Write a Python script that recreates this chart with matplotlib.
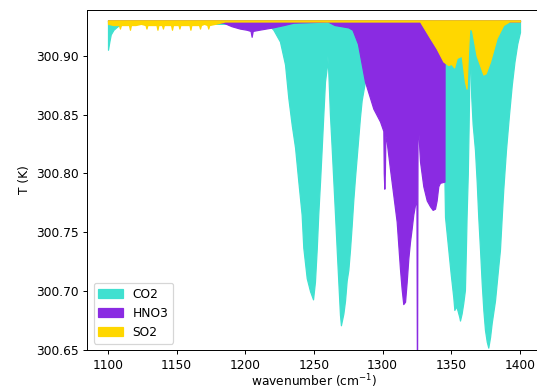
import matplotlib
matplotlib.use("Agg")
import matplotlib.pyplot as plt
from matplotlib.ticker import FormatStrFormatter, MultipleLocator

T_top = 300.93  # clear-sky brightness temperature (K)

# CO2 spectrum (wavenumber cm-1, T in K)
co2_wn = [1100, 1101, 1102, 1104, 1107, 1112, 1215, 1218, 1220.4, 1225.2, 1228.9, 1231.3,
          1233.8, 1236.2, 1238.6, 1241.0, 1242.2, 1244.7, 1247.1, 1249.3, 1250.7, 1252.0,
          1253.1, 1254.4, 1255.6, 1256.8, 1258.0, 1259.3, 1259.8, 1260.4, 1261.6, 1262.9,
          1264.1, 1265.3, 1266.5, 1267.7, 1268.9, 1269.6, 1271.4, 1272.6, 1273.8, 1275.0,
          1276.2, 1277.4, 1278.6, 1279.9, 1281.1, 1282.3, 1283.5, 1284.7, 1287.1, 1290,
          1295, 1300, 1344.8, 1344.9, 1345.4, 1347.8, 1349.5, 1351.4, 1352.2, 1353.4,
          1354.4, 1355.8, 1356.3, 1357.5, 1358.7, 1359.9, 1360.6, 1361.1, 1362.0, 1362.6,
          1363.1, 1363.4, 1363.7, 1364.5, 1365.5, 1367.2, 1368.5, 1369.6, 1370.9, 1372.1,
          1373.3, 1374.5, 1375.8, 1376.9, 1378.2, 1379.4, 1381.8, 1384.2, 1385.4, 1386.7,
          1387.8, 1389.8, 1392, 1394, 1396, 1398, 1400]
co2_T = [300.905, 300.912, 300.918, 300.922, 300.925, 300.927, 300.927, 300.925, 300.922,
         300.912, 300.8925, 300.864, 300.841, 300.822, 300.793, 300.765, 300.737, 300.711,
         300.700, 300.693, 300.708, 300.736, 300.765, 300.793, 300.821, 300.850, 300.878,
         300.890, 300.900, 300.886, 300.850, 300.821, 300.793, 300.765, 300.736, 300.708,
         300.680, 300.671, 300.681, 300.692, 300.709, 300.718, 300.735, 300.755, 300.777,
         300.797, 300.814, 300.831, 300.848, 300.862, 300.878, 300.897, 300.917, 300.926,
         300.927, 300.800, 300.763, 300.735, 300.715, 300.695, 300.684, 300.687, 300.684,
         300.678, 300.675, 300.681, 300.690, 300.701, 300.735, 300.763, 300.800, 300.840,
         300.880, 300.922, 300.900, 300.865, 300.842, 300.820, 300.792, 300.763, 300.735,
         300.707, 300.684, 300.667, 300.657, 300.652, 300.661, 300.673, 300.692, 300.721,
         300.735, 300.763, 300.786, 300.820, 300.850, 300.875, 300.895, 300.910, 300.920]

# HNO3 spectrum
hno3_wn = [1100, 1184, 1190, 1196, 1201, 1203.8, 1204.6, 1205.4, 1210, 1220, 1228, 1235,
           1260, 1265, 1270, 1275, 1278, 1282, 1287.1, 1293.2, 1298.1, 1300.5, 1300.8,
           1301.2, 1301.6, 1302.0, 1302.9, 1305.3, 1307.7, 1310.2, 1312.6, 1313.8, 1315.0,
           1316.3, 1317.5, 1318.7, 1319.9, 1321.1, 1322.3, 1323.5, 1324.6, 1325.0, 1325.4,
           1326.0, 1327.2, 1329.6, 1332.1, 1334.5, 1336.4, 1338.1, 1339.3, 1340.5, 1341.7,
           1345.0, 1345.1, 1400]
hno3_T = [300.929, 300.928, 300.925, 300.923, 300.922, 300.921, 300.916, 300.921, 300.922,
          300.924, 300.926, 300.928, 300.929, 300.926, 300.925, 300.924, 300.922, 300.910,
          300.878, 300.855, 300.844, 300.836, 300.800, 300.787, 300.800, 300.832, 300.827,
          300.804, 300.782, 300.759, 300.719, 300.702, 300.689, 300.691, 300.708, 300.728,
          300.742, 300.753, 300.765, 300.773, 300.776, 300.600, 300.840, 300.835, 300.810,
          300.789, 300.777, 300.772, 300.769, 300.770, 300.777, 300.789, 300.792, 300.793,
          300.929, 300.929]

# SO2 spectrum
so2_wn = [1100, 1104, 1108, 1108.7, 1109.4, 1112, 1115.3, 1116, 1116.7, 1120, 1124, 1127.3,
          1128, 1128.7, 1132, 1135.3, 1136, 1136.7, 1139.3, 1140, 1140.7, 1144, 1145.9,
          1146.6, 1147.3, 1151.3, 1152, 1152.7, 1156, 1159.3, 1160, 1160.7, 1164, 1166.3,
          1167, 1167.7, 1170, 1172.3, 1173, 1173.7, 1178, 1185, 1320, 1327.2, 1334.5,
          1339.3, 1344.2, 1347.8, 1350, 1352, 1353.9, 1357.5, 1359.9, 1361.1, 1362, 1363,
          1365, 1368.4, 1373.3, 1375, 1378.2, 1383, 1387.8, 1392, 1400]
so2_T = [300.927, 300.926, 300.926, 300.923, 300.926, 300.926, 300.926, 300.922, 300.926,
         300.926, 300.927, 300.926, 300.923, 300.926, 300.926, 300.926, 300.922, 300.926,
         300.926, 300.923, 300.926, 300.926, 300.926, 300.922, 300.926, 300.926, 300.923,
         300.926, 300.926, 300.926, 300.922, 300.926, 300.926, 300.926, 300.923, 300.926,
         300.927, 300.926, 300.923, 300.926, 300.927, 300.929, 300.929, 300.929, 300.915,
         300.906, 300.895, 300.892, 300.893, 300.890, 300.898, 300.900, 300.878, 300.872,
         300.900, 300.923, 300.922, 300.900, 300.884, 300.885, 300.895, 300.915, 300.926,
         300.929, 300.929]

DPI = 88
fig = plt.figure(figsize=(537 / DPI, 390 / DPI), dpi=DPI)
ax = fig.add_axes([87.4 / 537, 40 / 390, 453.2 / 537, 340.5 / 390])

ax.fill_between(co2_wn, co2_T, T_top, color='turquoise', label='CO2')
ax.fill_between(hno3_wn, hno3_T, T_top, color='blueviolet', label='HNO3')
ax.fill_between(so2_wn, so2_T, T_top, color='gold', label='SO2')

ax.set_xlim(1085, 1415)
ax.set_ylim(300.65, 300.9392)
ax.yaxis.set_major_locator(MultipleLocator(0.05))
ax.yaxis.set_major_formatter(FormatStrFormatter('%.2f'))
ax.xaxis.set_major_locator(MultipleLocator(50))

ax.set_xlabel('wavenumber (cm$^{-1}$)', labelpad=1)
ax.set_ylabel('T (K)')
ax.legend(loc='lower left')

fig.savefig('out.png', dpi=DPI)
